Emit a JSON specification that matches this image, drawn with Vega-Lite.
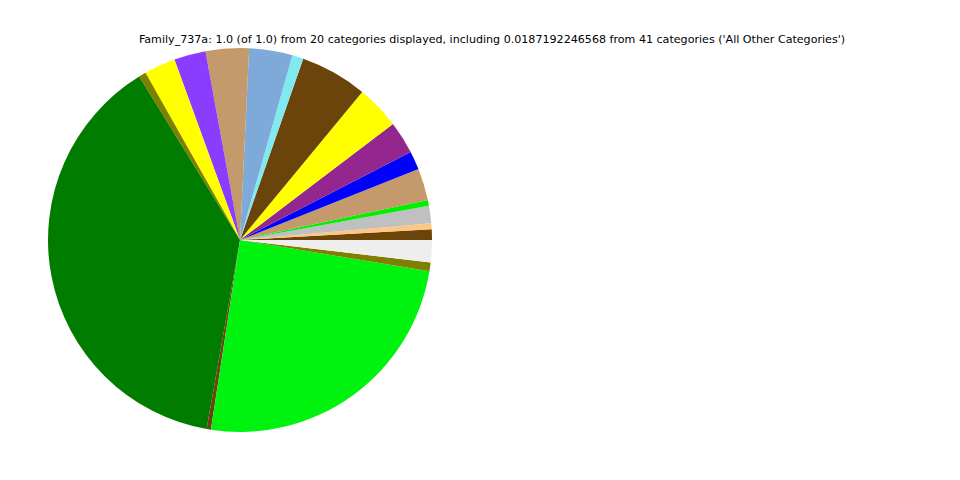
{
  "$schema": "https://vega.github.io/schema/vega-lite/v6.json",
  "width": 480,
  "height": 480,
  "autosize": "none",
  "padding": {"left": 0, "top": 0, "right": 480, "bottom": 0},
  "background": "white",
  "config": {"view": {"stroke": null}},
  "title": {
    "text": "Family_737a: 1.0 (of 1.0) from 20 categories displayed, including 0.0187192246568 from 41 categories ('All Other Categories')",
    "font": "DejaVu Sans",
    "fontSize": 11.1,
    "fontWeight": "normal",
    "color": "black",
    "anchor": "middle",
    "dx": 252,
    "offset": -45
  },
  "data": {
    "values": [
      {"idx": 1, "cat": "c01", "value": 0.0089},
      {"idx": 2, "cat": "c02", "value": 0.0050},
      {"idx": 3, "cat": "c03", "value": 0.0147},
      {"idx": 4, "cat": "c04", "value": 0.0047},
      {"idx": 5, "cat": "c05", "value": 0.0269},
      {"idx": 6, "cat": "c06", "value": 0.0156},
      {"idx": 7, "cat": "c07", "value": 0.0275},
      {"idx": 8, "cat": "c08", "value": 0.0369},
      {"idx": 9, "cat": "c09", "value": 0.0564},
      {"idx": 10, "cat": "c10", "value": 0.0094},
      {"idx": 11, "cat": "c11", "value": 0.0364},
      {"idx": 12, "cat": "c12", "value": 0.0364},
      {"idx": 13, "cat": "c13", "value": 0.0267},
      {"idx": 14, "cat": "c14", "value": 0.0264},
      {"idx": 15, "cat": "c15", "value": 0.0061},
      {"idx": 16, "cat": "c16", "value": 0.3842},
      {"idx": 17, "cat": "c17", "value": 0.0036},
      {"idx": 18, "cat": "c18", "value": 0.2481},
      {"idx": 19, "cat": "c19", "value": 0.0074},
      {"idx": 20, "cat": "All Other Categories", "value": 0.0187192246568}
    ]
  },
  "mark": {"type": "arc", "outerRadius": 192},
  "encoding": {
    "theta": {"field": "value", "type": "quantitative", "stack": true, "scale": {"range": [1.5707963, -4.712389]}},
    "order": {"field": "idx", "type": "quantitative"},
    "color": {
      "field": "cat",
      "type": "nominal",
      "legend": null,
      "scale": {
        "domain": ["c01","c02","c03","c04","c05","c06","c07","c08","c09","c10","c11","c12","c13","c14","c15","c16","c17","c18","c19","All Other Categories"],
        "range": ["#6b4409","#ffc583","#c0c0c0","#00f000","#c49a6c","#0000ff","#93268f","#ffff00","#6b440b","#80eaf0","#7eaad9","#c49a6c","#8b3dff","#ffff00","#808000","#007c00","#6b440b","#00f30f","#808000","#eeeeee"]
      }
    }
  }
}
